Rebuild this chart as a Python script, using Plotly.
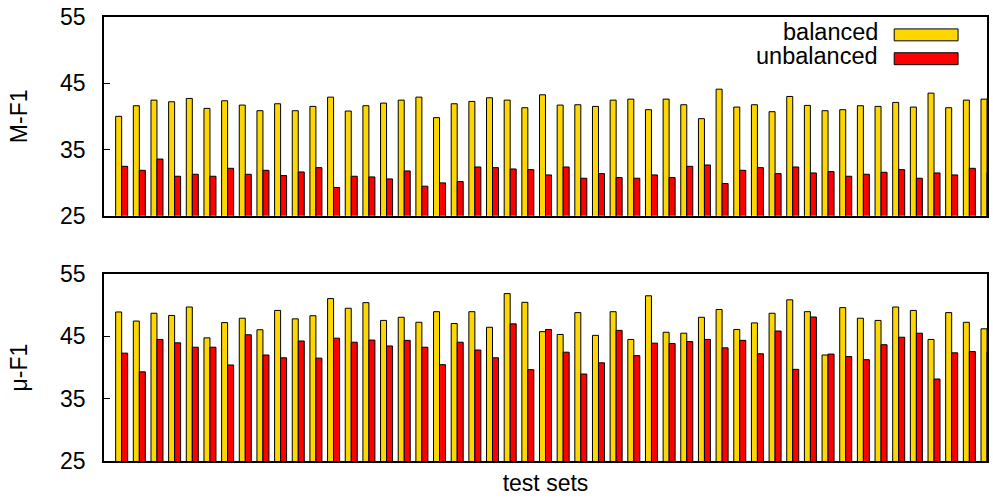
import plotly.graph_objects as go
from plotly.subplots import make_subplots

# ---- data -------------------------------------------------------------
test_sets = list(range(50))
series_names = ["balanced", "unbalanced"]

mf1_balanced = [40.0, 41.6, 42.45, 42.2, 42.7, 41.2, 42.35, 41.7, 40.85, 41.9,
                40.85, 41.5, 42.9, 40.8, 41.6, 42.0, 42.45, 42.9, 39.8, 41.9,
                42.25, 42.8, 42.45, 41.3, 43.25, 41.7, 41.75, 41.5, 42.45, 42.6,
                41.0, 42.6, 41.75, 39.65, 44.1, 41.4, 41.75, 40.7, 43.0, 41.65,
                40.85, 41.0, 41.6, 41.5, 42.1, 41.4, 43.5, 41.3, 42.45, 42.6]
mf1_unbalanced = [32.45, 31.85, 33.55, 30.95, 31.25, 30.95, 32.15, 31.25, 31.85, 31.05,
                  31.6, 32.25, 29.25, 30.95, 30.85, 30.55, 31.75, 29.45, 29.95, 30.15,
                  32.35, 32.25, 32.05, 31.95, 31.15, 32.35, 30.65, 31.35, 30.75, 30.65,
                  31.15, 30.75, 32.45, 32.65, 29.85, 31.85, 32.25, 31.35, 32.35, 31.45,
                  31.65, 30.95, 31.25, 31.55, 31.95, 30.65, 31.45, 31.15, 32.15, 31.5]
muf1_balanced = [48.9, 47.45, 48.7, 48.35, 49.7, 44.75, 47.2, 47.9, 46.05, 49.15,
                 47.8, 48.3, 51.05, 49.5, 50.4, 47.55, 48.05, 47.25, 48.95, 47.05,
                 48.95, 46.45, 51.85, 50.45, 45.75, 45.3, 48.8, 45.15, 48.95, 44.5,
                 51.5, 45.65, 45.5, 48.05, 49.3, 46.1, 47.15, 48.7, 50.85, 48.95,
                 42.0, 49.6, 47.9, 47.55, 49.7, 49.15, 44.5, 48.8, 47.25, 46.2]
muf1_unbalanced = [42.3, 39.3, 44.5, 43.95, 43.25, 43.25, 40.4, 45.25, 42.0, 41.55,
                   44.25, 41.5, 44.7, 44.05, 44.4, 43.45, 44.35, 43.25, 40.45, 44.05,
                   42.8, 41.55, 47.0, 39.65, 46.1, 42.45, 38.95, 40.75, 45.95, 41.9,
                   43.9, 43.85, 44.15, 44.5, 43.15, 44.35, 42.2, 45.85, 39.7, 48.1,
                   42.15, 41.75, 41.25, 43.65, 44.85, 45.5, 38.15, 42.35, 42.55, 42.5]

y_ticks = [25, 35, 45, 55]
panel_titles = ["M-F1", "μ-F1"]
x_title = "test sets"
colors = ["#FFD700", "#FF0000"]

# ---- figure -------------------------------------------------------------
FONT = "Liberation Sans, Arial, Helvetica, sans-serif"
W, H = 993, 498
ml, mr, mt, mb = 104, 4, 14, 37

fig = make_subplots(rows=2, cols=1, shared_xaxes=False, vertical_spacing=0.13)

panels = [(mf1_balanced, mf1_unbalanced), (muf1_balanced, muf1_unbalanced)]
for r, (bal, unb) in enumerate(panels, start=1):
    for name, vals, col in zip(series_names, (bal, unb), colors):
        fig.add_trace(go.Bar(x=test_sets, y=vals, name=name, marker_color=col,
                             marker_line_color="black", marker_line_width=1,
                             showlegend=False), row=r, col=1)

plot_h = H - mt - mb
top_dom = [(H - mb - 214) / plot_h, 1.0]
bot_dom = [0.0, (H - mb - 272.7) / plot_h]

axis_common = dict(showline=True, linecolor="black", linewidth=1.5, mirror=True,
                   showgrid=False, zeroline=False)
for i, dom in zip((1, 2), (top_dom, bot_dom)):
    sfx = "" if i == 1 else str(i)
    fig.layout["xaxis" + sfx].update(range=[-1, 49], showticklabels=False, ticks="",
                                     **axis_common)
    fig.layout["yaxis" + sfx].update(range=[25, 55], tickvals=y_ticks, ticks="inside",
                                     ticklen=6, tickwidth=1, tickcolor="black",
                                     ticklabelstandoff=12, domain=dom,
                                     title=dict(text=panel_titles[i - 1], standoff=26,
                                                font=dict(size=23)),
                                     **axis_common)
fig.layout.xaxis2.title = dict(text=x_title, standoff=13, font=dict(size=23))

# gnuplot-style key (text right, swatch left of frame edge)
def px_x(p):
    return (p - ml) / (W - ml - mr)

def px_y(p):
    return (H - mb - p) / plot_h

key_rows = [32, 56]
for name, col, yc in zip(series_names, colors, key_rows):
    fig.add_annotation(x=px_x(882), y=px_y(yc - 2.5), xref="paper", yref="paper",
                       text=name, showarrow=False, xanchor="right", yanchor="middle",
                       font=dict(size=23.5, color="black", family=FONT))
    fig.add_shape(type="rect", xref="paper", yref="paper",
                  x0=px_x(896), x1=px_x(960), y0=px_y(yc + 6), y1=px_y(yc - 6),
                  fillcolor=col, line=dict(color="black", width=1))

fig.update_layout(width=W, height=H, margin=dict(l=ml, r=mr, t=mt, b=mb),
                  barmode="group", bargap=0.32, bargroupgap=0,
                  plot_bgcolor="white", paper_bgcolor="white",
                  font=dict(family=FONT, size=23, color="black"))

fig.write_html("out.html")
